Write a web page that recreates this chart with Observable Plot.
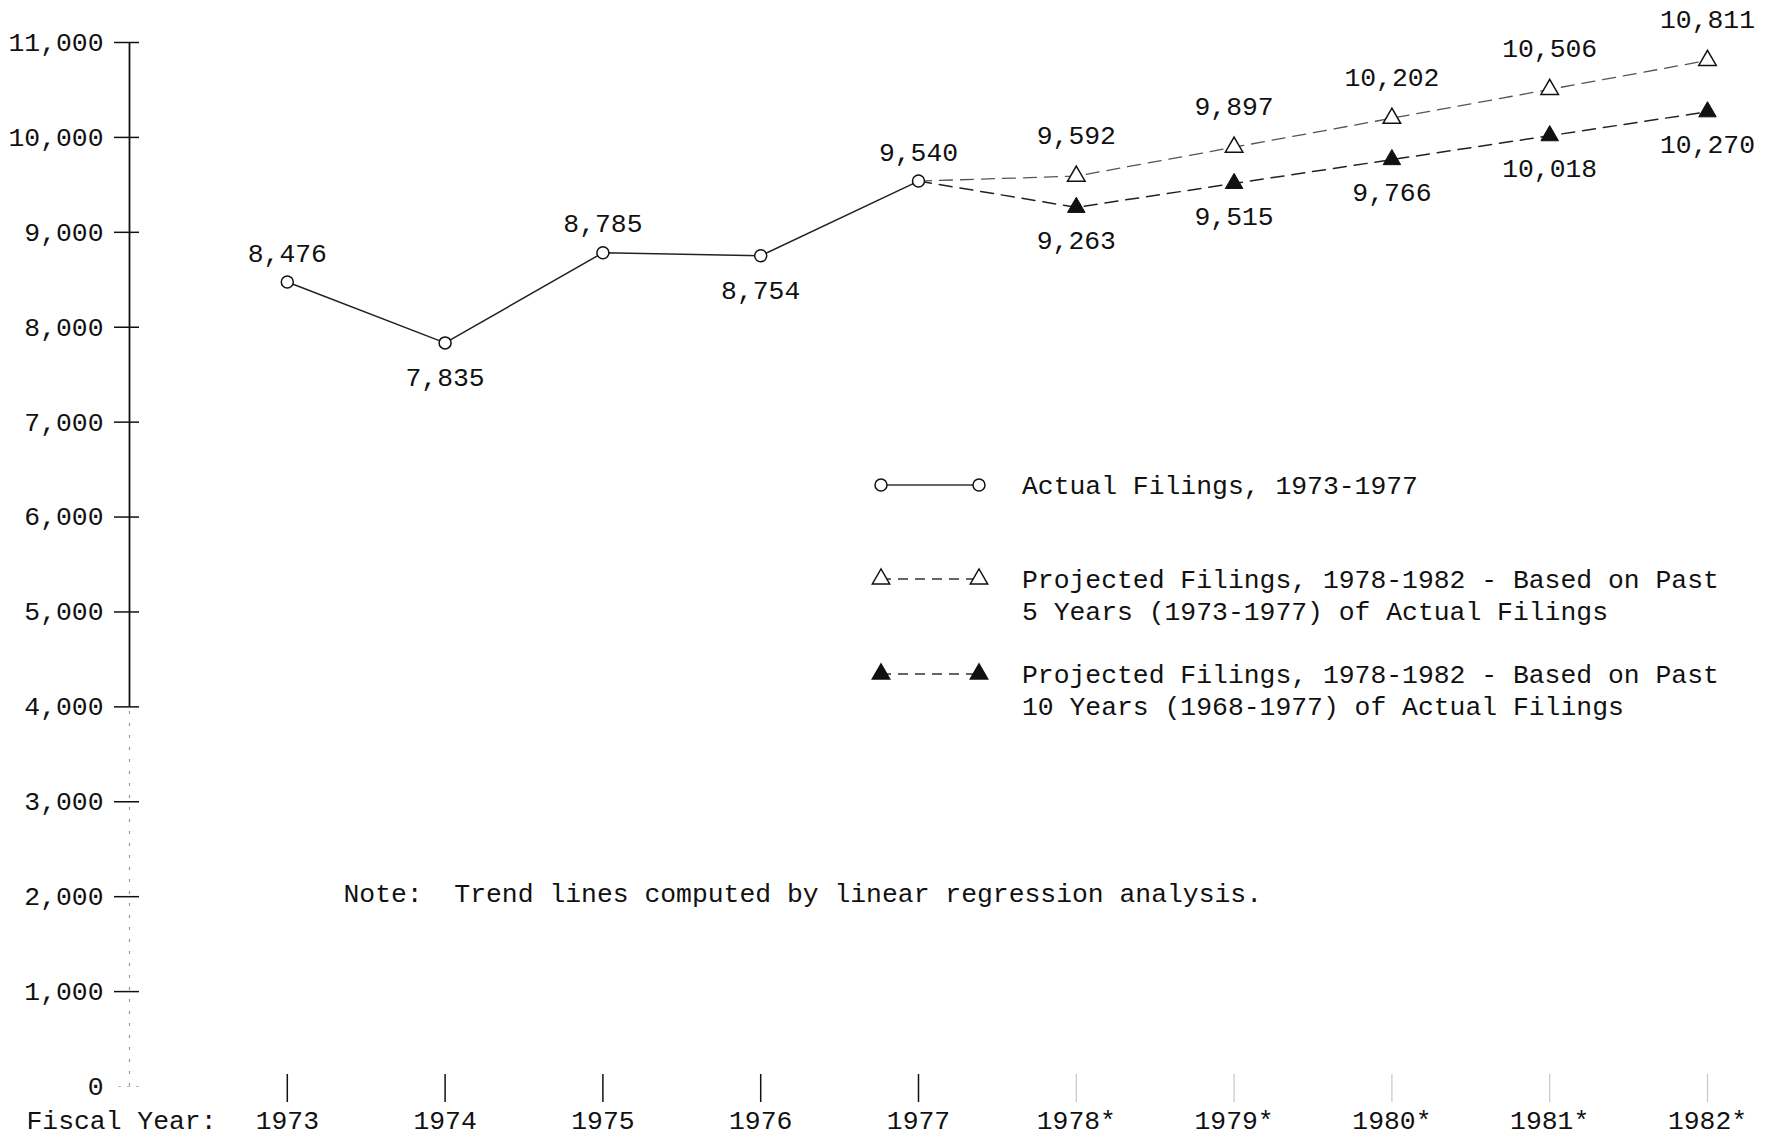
<!DOCTYPE html>
<html><head><meta charset="utf-8">
<script src="https://cdn.jsdelivr.net/npm/d3@7"></script>
<script src="https://cdn.jsdelivr.net/npm/@observablehq/plot@0.6"></script>
<style>
body{margin:0;background:#fff}
svg{display:block}
text{white-space:pre}
</style>
</head><body><div id="chart"></div>
<script>
// ---- data ----
const actualYears = [1973, 1974, 1975, 1976, 1977];
const actualFilings = [8476, 7835, 8785, 8754, 9540];
const projYears = [1977, 1978, 1979, 1980, 1981, 1982];
const proj5Years = [9540, 9592, 9897, 10202, 10506, 10811];
const proj10Years = [9540, 9263, 9515, 9766, 10018, 10270];
const yTickValues = [0, 1000, 2000, 3000, 4000, 5000, 6000, 7000, 8000, 9000, 10000, 11000];
const xTickValues = [1973, 1974, 1975, 1976, 1977, 1978, 1979, 1980, 1981, 1982];
const xAxisTitle = "Fiscal Year:";
const noteText = "Note:  Trend lines computed by linear regression analysis.";
const legendActual = ["Actual Filings, 1973-1977"];
const legendProj5 = ["Projected Filings, 1978-1982 - Based on Past", "5 Years (1973-1977) of Actual Filings"];
const legendProj10 = ["Projected Filings, 1978-1982 - Based on Past", "10 Years (1968-1977) of Actual Filings"];

const actual = actualYears.map((x, i) => ({x, y: actualFilings[i]}));
const p5 = projYears.map((x, i) => ({x, y: proj5Years[i]}));
const p10 = projYears.map((x, i) => ({x, y: proj10Years[i]}));
const fmt = d3.format(",");
const FONT = "Liberation Mono, DejaVu Sans Mono, monospace";
const FS = 26.4;
const xDomain = [1972, 1982];

const plot = Plot.plot({
  width: 1773, height: 1138,
  marginLeft: 129, marginRight: 66, marginTop: 42, marginBottom: 52,
  style: {fontFamily: FONT, fontSize: FS + "px", background: "#fff", color: "#111"},
  x: {type: "linear", domain: xDomain, label: null},
  y: {domain: [0, 11000], label: null},
  marks: [
    // y axis line
    Plot.ruleX([xDomain[0]], {y1: 4000, y2: 11000, stroke: "#111", strokeWidth: 1.8}),
    Plot.ruleX([xDomain[0]], {y1: 0, y2: 4000, stroke: "#999", strokeWidth: 1.2, strokeDasharray: "3,9"}),
    Plot.axisY({ticks: yTickValues.filter(d => d > 0), label: null, tickSize: 25, dx: 10, tickPadding: 11, tickFormat: fmt, stroke: "#111", strokeWidth: 1.5, fontSize: FS}),
    Plot.axisY({ticks: [0], label: null, tickSize: 25, dx: 10, tickPadding: 11, tickFormat: fmt, stroke: "#bbb", strokeDasharray: "3,6", fontSize: FS}),
    // x axis ticks
    Plot.axisX({ticks: xTickValues.filter(d => d <= 1977), label: null, tickSize: 28, dy: -12, tickFormat: () => "", stroke: "#111", strokeWidth: 1.5}),
    Plot.axisX({ticks: xTickValues.filter(d => d > 1977), label: null, tickSize: 28, dy: -12, tickFormat: () => "", stroke: "#c8c8c8", strokeWidth: 1.2}),
    Plot.axisX({ticks: xTickValues, label: null, tickSize: 0, tickPadding: 24, tickFormat: d => d > 1977 ? d + "*" : String(d), fontSize: FS}),
    Plot.text([xAxisTitle], {frameAnchor: "bottom-left", textAnchor: "start", lineAnchor: "middle", dx: -103, dy: 34, fontSize: FS}),
    // lines
    Plot.line(p5, {x: "x", y: "y", stroke: "#555", strokeWidth: 1.3, strokeDasharray: "13,8"}),
    Plot.line(p10, {x: "x", y: "y", stroke: "#222", strokeWidth: 1.5, strokeDasharray: "13,8"}),
    Plot.line(actual, {x: "x", y: "y", stroke: "#222", strokeWidth: 1.5}),
    // markers
    Plot.dot(actual, {x: "x", y: "y", r: 6, fill: "#fff", stroke: "#111", strokeWidth: 1.5}),
    Plot.dot(p5.slice(1), {x: "x", y: "y", symbol: "triangle", r: 6.5, fill: "#fff", stroke: "#111", strokeWidth: 1.5}),
    Plot.dot(p10.slice(1), {x: "x", y: "y", symbol: "triangle", r: 6.5, fill: "#111", stroke: "#111", strokeWidth: 1}),
    // value labels
    Plot.text(actual.filter((d, i) => i % 2 === 0), {x: "x", y: "y", text: d => fmt(d.y), dy: -29, fontSize: FS}),
    Plot.text(actual.filter((d, i) => i % 2 === 1), {x: "x", y: "y", text: d => fmt(d.y), dy: 35, fontSize: FS}),
    Plot.text(p5.slice(1), {x: "x", y: "y", text: d => fmt(d.y), dy: -41, fontSize: FS}),
    Plot.text(p10.slice(1), {x: "x", y: "y", text: d => fmt(d.y), dy: 33, fontSize: FS}),
    // note
    Plot.text([noteText], {frameAnchor: "top-left", textAnchor: "start", lineAnchor: "middle", dx: 214, dy: 851, fontSize: FS})
  ]
});

// legend drawn in the plot's svg
const svg = d3.select(plot);
const lg = svg.append("g").attr("font-family", FONT).attr("font-size", FS).attr("fill", "#111").attr("text-anchor", "start");
const rows = [
  {y: 485, lines: legendActual, kind: "circle"},
  {y: 579, lines: legendProj5, kind: "open"},
  {y: 674, lines: legendProj10, kind: "filled"}
];
const x1 = 881, x2 = 979, tx = 1022, lh = 32;
const tri = d3.symbol(d3.symbolTriangle, Math.PI * 6.5 * 6.5)();
rows.forEach(r => {
  lg.append("line").attr("x1", x1).attr("x2", x2).attr("y1", r.y).attr("y2", r.y)
    .attr("stroke", "#333").attr("stroke-width", 1.4)
    .attr("stroke-dasharray", r.kind === "circle" ? null : "10,7");
  [x1, x2].forEach(cx => {
    if (r.kind === "circle") {
      lg.append("circle").attr("cx", cx).attr("cy", r.y).attr("r", 6).attr("fill", "#fff").attr("stroke", "#111").attr("stroke-width", 1.5);
    } else {
      lg.append("path").attr("d", tri).attr("transform", `translate(${cx},${r.y})`)
        .attr("fill", r.kind === "filled" ? "#111" : "#fff").attr("stroke", "#111").attr("stroke-width", 1.4);
    }
  });
  r.lines.forEach((t, i) => {
    lg.append("text").attr("x", tx).attr("y", r.y + i * lh).attr("dy", "0.35em").attr("text-anchor", "start").text(t);
  });
});

document.getElementById("chart").appendChild(plot);
</script>
</body></html>
